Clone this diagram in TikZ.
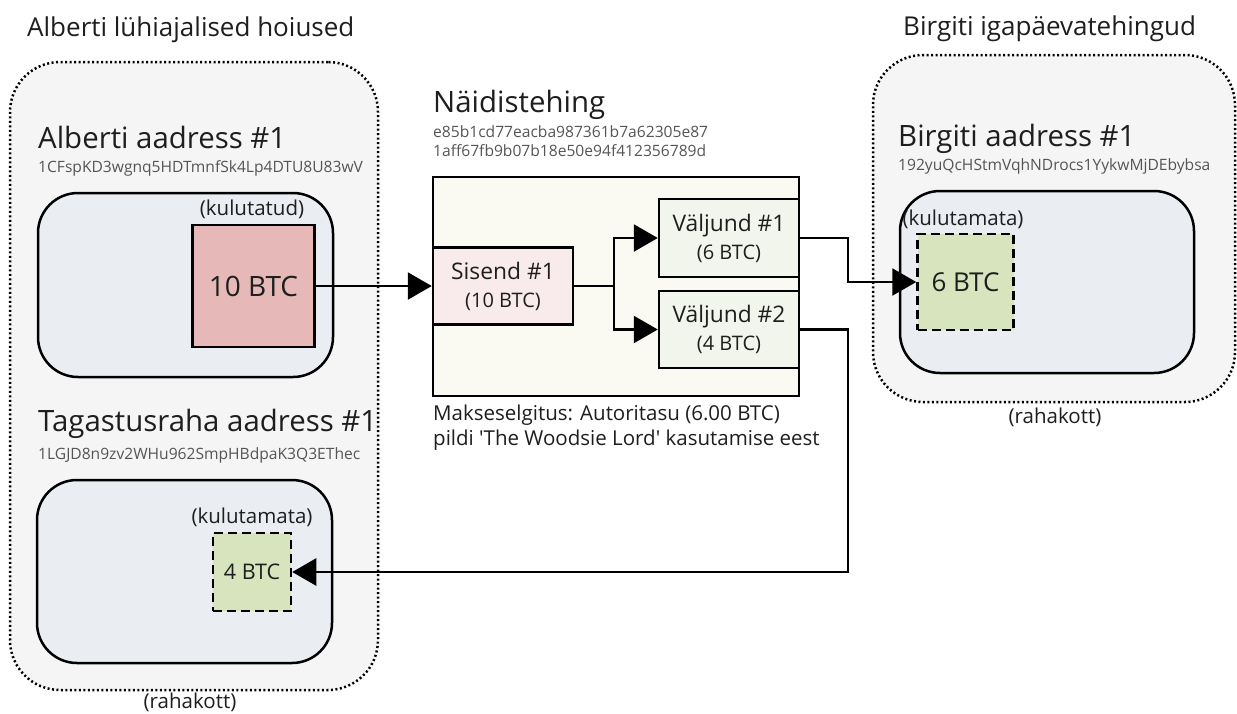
\documentclass[tikz,border=0pt]{standalone}
\usepackage{fontspec}
\setmainfont{Open Sans}
\usepackage{tikz}
\usetikzlibrary{arrows.meta}

\definecolor{walletgray}{HTML}{F5F5F5}
\definecolor{addrblue}{HTML}{EAEDF2}
\definecolor{spentred}{HTML}{E6B9B8}
\definecolor{unspentgreen}{HTML}{D7E4BD}
\definecolor{txcream}{HTML}{FAFAF2}
\definecolor{inpink}{HTML}{F9EBEB}
\definecolor{outgreen}{HTML}{F1F5EB}
\definecolor{inkdark}{HTML}{1E1E1E}
\definecolor{hashgray}{HTML}{555555}

\begin{document}
\begin{tikzpicture}[x=1pt,y=-1pt,
    wallet/.style={draw, line width=2.5pt, dash pattern=on 2pt off 2.5pt, fill=walletgray, rounded corners=50pt, inner sep=0pt},
    addrbox/.style={draw, line width=2.5pt, fill=addrblue, rounded corners=40pt, inner sep=0pt},
    coin/.style={draw, line width=2.5pt, inner sep=0pt, text=inkdark},
    unspent/.style={coin, fill=unspentgreen, dash pattern=on 9pt off 5pt},
    txpart/.style={draw, line width=2.5pt, inner sep=0pt, align=center, text=inkdark, font=\fontsize{22.8}{28}\selectfont},
    grouptext/.style={anchor=base west, inner sep=0pt, text=inkdark, font=\fontsize{26}{30}\selectfont},
    headtext/.style={anchor=base west, inner sep=0pt, text=inkdark, font=\fontsize{29.4}{34}\selectfont},
    hashtext/.style={anchor=base west, inner sep=0pt, text=hashgray, font=\fontsize{15.6}{19}\selectfont},
    note/.style={anchor=base, inner sep=0pt, text=inkdark, font=\fontsize{20.5}{25}\selectfont},
    wire/.style={line width=2.5pt},
    flow/.style={wire, -{Triangle[length=24pt,width=27pt]}}]

\useasboundingbox (0,0) rectangle (1237,713);

% wallets
\node[wallet, minimum width=368pt, minimum height=628pt] (walletA) at (194,376) {};
\node[wallet, minimum width=362pt, minimum height=347pt] (walletB) at (1054,228.5) {};
\node[grouptext] (groupA) at (27,36) {Alberti lühiajalised hoiused};
\node[grouptext] (groupB) at (903,35) {Birgiti igapäevatehingud};
\node[note] (bagA) at (190,708) {(rahakott)};
\node[note] (bagB) at (1055,423) {(rahakott)};

% Alberti addresses
\node[headtext] (addrA) at (38,148) {Alberti aadress \#1};
\node[hashtext] (hashA) at (38,172) {1CFspKD3wgnq5HDTmnfSk4Lp4DTU8U83wV};
\node[addrbox, minimum width=295pt, minimum height=184pt] (boxA) at (185.5,285) {};
\node[note] (noteA) at (252,215) {(kulutatud)};
\node[coin, fill=spentred, minimum size=122pt, font=\fontsize{28}{32}\selectfont] (coin10) at (253.5,286) {10 BTC};

\node[headtext] (addrC) at (38,431) {Tagastusraha aadress \#1};
\node[hashtext] (hashC) at (38,459) {1LGJD8n9zv2WHu962SmpHBdpaK3Q3EThec};
\node[addrbox, minimum width=295pt, minimum height=183pt] (boxC) at (184.5,571.5) {};
\node[note] (noteC) at (252,523) {(kulutamata)};
\node[unspent, minimum size=78pt, font=\fontsize{21.5}{25}\selectfont] (coin4) at (252,572) {4 BTC};

% transaction
\node[headtext] (txname) at (433,112) {Näidistehing};
\node[hashtext] (txid1) at (433,137) {e85b1cd77eacba987361b7a62305e87};
\node[hashtext] (txid2) at (433,156) {1aff67fb9b07b18e50e94f412356789d};
\node[draw, line width=2.5pt, fill=txcream, minimum width=366pt, minimum height=219pt] (tx) at (616,286.5) {};
\node[txpart, fill=inpink, minimum width=140pt, minimum height=77pt] (in1) at (503,286) {Sisend \#1\\{\fontsize{20}{24}\selectfont (10 BTC)}};
\node[txpart, fill=outgreen, minimum width=140pt, minimum height=78pt] (out1) at (729,238) {Väljund \#1\\{\fontsize{20}{24}\selectfont (6 BTC)}};
\node[txpart, fill=outgreen, minimum width=140pt, minimum height=77pt] (out2) at (729,329.5) {Väljund \#2\\{\fontsize{20}{24}\selectfont (4 BTC)}};
\node[note, anchor=base west] (memo1) at (433,420) {Makseselgitus: Autoritasu (6.00 BTC)};
\node[note, anchor=base west] (memo2) at (433,445) {pildi \textquotesingle The Woodsie Lord\textquotesingle{} kasutamise eest};

% Birgiti address
\node[headtext] (addrB) at (898,146) {Birgiti aadress \#1};
\node[hashtext] (hashB) at (898,170) {192yuQcHStmVqhNDrocs1YykwMjDEbybsa};
\node[addrbox, minimum width=294pt, minimum height=182pt] (boxB) at (1047,282) {};
\node[note] (noteB) at (963,225) {(kulutamata)};
\node[unspent, minimum size=96pt, font=\fontsize{26}{30}\selectfont] (coin6) at (965.5,282) {6 BTC};

% connectors
\coordinate (split) at (614,286);
\coordinate (turnB) at (848,238);
\coordinate (turnC) at (848,329.5);
\draw[flow] (coin10.east) -- (in1.west);
\draw[wire] (in1.east) -- (split);
\draw[flow] (split) |- (out1.west);
\draw[flow] (split) |- (out2.west);
\draw[flow] (out1.east) -- (turnB) |- (coin6.west);
\draw[flow] (out2.east) -- (turnC) |- (coin4.east);
\end{tikzpicture}
\end{document}
